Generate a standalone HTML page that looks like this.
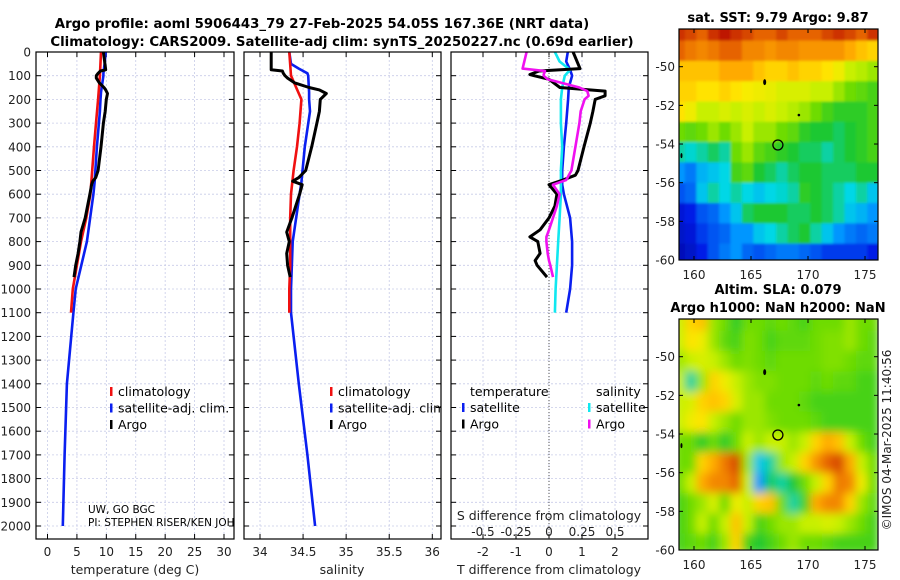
<!DOCTYPE html>
<html><head><meta charset="utf-8"><style>
body{margin:0;background:#fff}
svg{display:block;font-family:"DejaVu Sans","Liberation Sans",sans-serif}
</style></head><body>
<svg id="fig" width="900" height="580" viewBox="0 0 900 580">
<defs>
<clipPath id="c1"><rect x="36" y="52" width="198" height="487"/></clipPath>
<clipPath id="c2"><rect x="244" y="52" width="197" height="487"/></clipPath>
<clipPath id="c3"><rect x="451" y="52" width="197" height="487"/></clipPath>
<clipPath id="cm1"><rect x="679" y="29" width="199" height="231"/></clipPath>
<clipPath id="cm2"><rect x="679" y="319" width="199" height="231"/></clipPath>
<filter id="bl1" x="-5%" y="-5%" width="110%" height="110%"><feGaussianBlur stdDeviation="1.2"/></filter>
<filter id="bl2" x="-5%" y="-5%" width="110%" height="110%"><feGaussianBlur stdDeviation="4.5"/></filter>
</defs>
<g id="root"></g>
</svg>
<script>
// ---- data ----
const depthTicks=[0,100,200,300,400,500,600,700,800,900,1000,1100,1200,1300,1400,1500,1600,1700,1800,1900,2000];
const tTicks=[0,5,10,15,20,25,30];
const sTicks=[34,34.5,35,35.5,36];
const sTickLabels=["34","34.5","35","35.5","36"];
const dTTicks=[-2,-1,0,1,2];
const dSTicks=[-0.5,-0.25,0,0.25,0.5];
const dSTickLabels=["-0.5","-0.25","0","0.25","0.5"];

const climDepth=[0,100,200,300,400,500,600,700,800,900,1000,1100];
const climTemp=[9.1,8.9,8.6,8.25,7.9,7.6,7.3,6.6,5.7,5.0,4.3,4.0];
const climSal=[34.34,34.36,34.48,34.46,34.43,34.39,34.36,34.35,34.35,34.35,34.34,34.34];
const satDepth=[0,50,70,90,100,170,200,250,400,550,600,800,1000,1100,1400,1700,2000];
const satTemp=[9.9,9.7,9.6,9.5,9.5,9.1,9.0,8.9,8.4,8.0,7.8,6.7,4.8,4.4,3.3,2.9,2.6];
const satSal=[34.34,34.36,34.45,34.55,34.56,34.57,34.57,34.58,34.52,34.48,34.46,34.38,34.36,34.36,34.45,34.55,34.64];
const argoDepth=[0,75,80,90,100,110,130,150,160,175,200,250,300,400,500,530,545,560,600,700,760,800,850,900,950];
const argoTemp=[9.5,9.9,9.0,8.6,8.3,8.3,8.8,9.6,9.9,10.2,10.0,9.8,9.5,9.1,8.6,8.2,7.7,7.5,7.2,6.4,5.7,5.5,5.2,4.8,4.5];
const argoSal=[34.13,34.13,34.26,34.27,34.29,34.32,34.40,34.57,34.69,34.77,34.70,34.69,34.66,34.60,34.53,34.45,34.38,34.49,34.46,34.37,34.31,34.34,34.31,34.32,34.35];

const dDepth=[0,40,75,100,150,200,300,400,500,560,600,700,800,900,1000,1100];
const dTsat=[0.57,0.52,0.64,0.7,0.6,0.58,0.52,0.45,0.4,0.4,0.45,0.64,0.7,0.7,0.64,0.52];
const dSsat=[0.045,0.08,0.16,0.12,0.1,0.09,0.09,0.1,0.09,0.09,0.09,0.08,0.07,0.06,0.05,0.045];
const dArgoDepth=[0,70,80,95,100,115,150,165,185,200,250,300,400,500,520,540,560,600,650,700,750,780,800,850,880,900,950];
const dTargo=[0.73,0.94,-0.3,-0.58,-0.45,0,0.33,1.7,1.7,1.4,1.33,1.25,1.06,0.88,0.8,0.42,0,0.24,0.18,0,-0.27,-0.58,-0.34,-0.27,-0.42,-0.36,-0.06];
const dSargo=[-0.17,-0.2,-0.03,-0.04,-0.04,-0.01,0.23,0.29,0.3,0.27,0.24,0.23,0.2,0.17,0.15,0.13,0.03,0.08,0.06,0.03,0.0,-0.02,-0.02,-0.01,0.0,0.01,0.03];

const mapLonTicks=[160,165,170,175];
const mapLatTicks=[-50,-52,-54,-56,-58,-60];
const sstGrid=[
[0.9,0.88,0.85,0.9,0.93,0.9,0.88,0.85,0.85,0.88,0.85,0.85,0.85,0.88,0.9,0.88,0.85,0.9],
[0.85,0.82,0.8,0.82,0.85,0.85,0.8,0.8,0.78,0.8,0.8,0.78,0.78,0.78,0.78,0.75,0.72,0.7],
[0.72,0.72,0.72,0.72,0.75,0.75,0.75,0.72,0.7,0.7,0.72,0.7,0.7,0.68,0.65,0.6,0.58,0.55],
[0.7,0.7,0.68,0.68,0.7,0.68,0.66,0.65,0.64,0.62,0.62,0.62,0.6,0.6,0.55,0.5,0.48,0.45],
[0.68,0.65,0.6,0.6,0.62,0.6,0.62,0.6,0.62,0.6,0.58,0.55,0.5,0.45,0.42,0.42,0.42,0.45],
[0.5,0.48,0.5,0.55,0.5,0.55,0.6,0.55,0.55,0.5,0.48,0.42,0.4,0.4,0.38,0.4,0.42,0.45],
[0.35,0.33,0.35,0.38,0.35,0.5,0.55,0.48,0.45,0.42,0.4,0.38,0.38,0.35,0.38,0.4,0.42,0.45],
[0.25,0.22,0.28,0.3,0.32,0.45,0.48,0.4,0.38,0.35,0.38,0.4,0.4,0.38,0.38,0.38,0.4,0.4],
[0.18,0.2,0.3,0.35,0.32,0.35,0.32,0.3,0.32,0.33,0.35,0.42,0.4,0.38,0.35,0.32,0.35,0.3],
[0.1,0.12,0.18,0.2,0.25,0.3,0.38,0.4,0.4,0.4,0.38,0.38,0.4,0.38,0.35,0.3,0.28,0.25],
[0.08,0.1,0.15,0.18,0.2,0.25,0.25,0.3,0.32,0.35,0.38,0.4,0.35,0.3,0.25,0.22,0.2,0.22],
[0.06,0.08,0.12,0.18,0.22,0.25,0.2,0.18,0.2,0.22,0.22,0.2,0.18,0.15,0.15,0.15,0.15,0.12]];
const slaGrid=[
[0.6,0.7,0.72,0.55,0.5,0.42,0.5,0.5,0.48,0.5,0.48,0.45,0.5,0.5,0.5,0.55,0.5,0.5],
[0.6,0.68,0.65,0.55,0.48,0.45,0.52,0.5,0.45,0.48,0.48,0.48,0.5,0.52,0.52,0.55,0.5,0.48],
[0.55,0.6,0.62,0.6,0.55,0.5,0.52,0.5,0.48,0.5,0.5,0.5,0.5,0.52,0.52,0.5,0.48,0.48],
[0.6,0.35,0.55,0.7,0.65,0.6,0.55,0.52,0.52,0.5,0.5,0.5,0.48,0.5,0.48,0.48,0.45,0.45],
[0.6,0.62,0.7,0.72,0.7,0.62,0.55,0.55,0.5,0.5,0.5,0.48,0.45,0.45,0.45,0.45,0.45,0.45],
[0.6,0.65,0.68,0.6,0.55,0.5,0.55,0.55,0.52,0.5,0.5,0.5,0.48,0.45,0.45,0.45,0.45,0.45],
[0.5,0.5,0.42,0.5,0.42,0.5,0.6,0.55,0.6,0.6,0.55,0.6,0.7,0.75,0.72,0.6,0.5,0.45],
[0.5,0.5,0.7,0.75,0.82,0.88,0.55,0.3,0.35,0.55,0.6,0.7,0.78,0.85,0.88,0.75,0.6,0.5],
[0.5,0.6,0.75,0.8,0.8,0.85,0.6,0.25,0.38,0.35,0.4,0.5,0.6,0.7,0.82,0.8,0.65,0.5],
[0.45,0.5,0.55,0.62,0.5,0.65,0.6,0.7,0.72,0.5,0.35,0.45,0.75,0.8,0.8,0.7,0.55,0.48],
[0.45,0.5,0.6,0.5,0.6,0.72,0.6,0.45,0.5,0.55,0.55,0.6,0.6,0.62,0.6,0.55,0.5,0.45],
[0.45,0.48,0.5,0.45,0.55,0.7,0.45,0.4,0.45,0.5,0.55,0.5,0.5,0.48,0.45,0.45,0.45,0.45]];
const profileLon=[167.36];
const profileLat=[-54.05];

// ---- helpers ----
const NS="http://www.w3.org/2000/svg";
const root=document.getElementById('root');
function mk(tag,attrs,parent,text){const e=document.createElementNS(NS,tag);for(const k in attrs)e.setAttribute(k,attrs[k]);if(text!==undefined)e.textContent=text;(parent||root).appendChild(e);return e;}
const yD=d=>52+d*0.237;
function lin(d0,d1,p0,p1){return v=>p0+(v-d0)*(p1-p0)/(d1-d0);}
const xT=lin(0,30,47.5,224);
const xS=lin(34,36,260,432.3);
const xDT=lin(0,1,549,582);
const xDS=lin(0,1,549,681);

function panel(x0,x1,name,xticks,xfun,labels){
  const g=mk('g',{});
  
  
  mk('rect',{x:x0,y:52,width:x1-x0,height:487,fill:'#fff'},g);
  depthTicks.forEach(d=>{mk('line',{x1:x0,x2:x1,y1:yD(d),y2:yD(d),stroke:'#c8cce8','stroke-width':0.8,'stroke-dasharray':'2,2'},g);
    mk('line',{x1:x0,x2:x0+5,y1:yD(d),y2:yD(d),stroke:'#000'},g);mk('line',{x1:x1-5,x2:x1,y1:yD(d),y2:yD(d),stroke:'#000'},g);});
  xticks.forEach((t,i)=>{const x=xfun(t);mk('line',{x1:x,x2:x,y1:52,y2:539,stroke:'#c8cce8','stroke-width':0.8,'stroke-dasharray':'2,2'},g);
    mk('line',{x1:x,x2:x,y1:534,y2:539,stroke:'#000'},g);mk('line',{x1:x,x2:x,y1:52,y2:57,stroke:'#000'},g);
    const tl=mk('text',{x:x,y:556,'font-size':12,'text-anchor':'middle',fill:'#222'},g,labels[i]);
    
    });
  return g;
}
function line(g,xs,ds,xf,col,w,clip){
  const pts=ds.map((d,i)=>xf(xs[i]).toFixed(1)+','+yD(d).toFixed(1)).join(' ');
  return mk('polyline',{points:pts,fill:'none',stroke:col,'stroke-width':w,'stroke-linejoin':'round','clip-path':'url(#'+clip+')'},g);
}
function frame(g,x0,x1){mk('rect',{x:x0,y:52,width:x1-x0,height:487,fill:'none',stroke:'#000','stroke-width':1.2},g);}

// titles
let t=mk('text',{x:322,y:28,'font-size':13.3,'font-weight':'bold','text-anchor':'middle'},root,'Argo profile: aoml 5906443_79 27-Feb-2025 54.05S 167.36E (NRT data)');

t=mk('text',{x:342,y:46,'font-size':13.3,'font-weight':'bold','text-anchor':'middle'},root,'Climatology: CARS2009. Satellite-adj clim: synTS_20250227.nc (0.69d earlier)');


depthTicks.forEach(d=>{const e=mk('text',{x:31,y:yD(d)+4.5,'font-size':12,'text-anchor':'end',fill:'#222'},root,String(d));
  
  });

// panel 1
const g1=panel(36,234,'temperature-panel',tTicks,xT,tTicks.map(String));
line(g1,satTemp,satDepth,xT,'#0a1ff0',2.6,'c1');
line(g1,climTemp,climDepth,xT,'#f01010',2.6,'c1');
line(g1,argoTemp,argoDepth,xT,'#000',3,'c1');
frame(g1,36,234);
t=mk('text',{x:135,y:574,'font-size':12.5,'text-anchor':'middle',fill:'#222'},g1,'temperature (deg C)');

[['climatology','#f01010'],['satellite-adj. clim.','#0a1ff0'],['Argo','#000']].forEach((L,i)=>{
  const y=392+i*16.5;mk('rect',{x:110,y:y-5,width:2.5,height:9,fill:L[1]},g1);
  const e=mk('text',{x:118,y:y+4,'font-size':12.5,'clip-path':'url(#c1)'},g1,L[0]);
  });
mk('text',{x:88,y:513,'font-size':10.5},g1,'UW, GO BGC');
mk('text',{x:88,y:526,'font-size':10.5,'clip-path':'url(#c1)'},g1,'PI: STEPHEN RISER/KEN JOHNSON');

// panel 2
const g2=panel(244,441,'salinity-panel',sTicks,xS,sTickLabels);
line(g2,satSal,satDepth,xS,'#0a1ff0',2.6,'c2');
line(g2,climSal,climDepth,xS,'#f01010',2.6,'c2');
line(g2,argoSal,argoDepth,xS,'#000',3,'c2');
frame(g2,244,441);
t=mk('text',{x:342,y:574,'font-size':12.5,'text-anchor':'middle',fill:'#222'},g2,'salinity');

[['climatology','#f01010'],['satellite-adj. clim.','#0a1ff0'],['Argo','#000']].forEach((L,i)=>{
  const y=392+i*16.5;mk('rect',{x:330,y:y-5,width:2.5,height:9,fill:L[1]},g2);
  const e=mk('text',{x:338,y:y+4,'font-size':12.5,'clip-path':'url(#c2)'},g2,L[0]);
  });

// panel 3
const g3=panel(451,648,'difference-panel',dTTicks,xDT,dTTicks.map(String));
mk('line',{x1:xDT(0),x2:xDT(0),y1:52,y2:539,stroke:'#555','stroke-width':1,'stroke-dasharray':'1,2'},g3);
line(g3,dTsat,dDepth,xDT,'#0a1ff0',2.6,'c3');
line(g3,dSsat,dDepth,xDS,'#10e8f0',2.6,'c3');
line(g3,dTargo,dArgoDepth,xDT,'#000',3,'c3');
line(g3,dSargo,dArgoDepth,xDS,'#f010f0',2.6,'c3');
frame(g3,451,648);
mk('text',{x:470,y:396,'font-size':12.5},g3,'temperature');
mk('text',{x:596,y:396,'font-size':12.5},g3,'salinity');
[['satellite','#0a1ff0',462],['Argo','#000',462],['satellite','#10e8f0',588],['Argo','#f010f0',588]].forEach((L,i)=>{
  const y=408+(i%2)*16.5;mk('rect',{x:L[2],y:y-5,width:2.5,height:9,fill:L[1]},g3);
  const e=mk('text',{x:L[2]+8,y:y+4,'font-size':12.5,'clip-path':'url(#c3)'},g3,L[0]);
  });
t=mk('text',{x:549,y:520,'font-size':12.5,'text-anchor':'middle',fill:'#222'},g3,'S difference from climatology');

dSTicks.forEach((v,i)=>{const e=mk('text',{x:xDS(v),y:536,'font-size':12,'text-anchor':'middle',fill:'#222'},g3,dSTickLabels[i]);
  });
t=mk('text',{x:549,y:574,'font-size':12.5,'text-anchor':'middle',fill:'#222'},g3,'T difference from climatology');


// colormap (matches reference palette)
const cmStops=[[0,[0,0,140]],[0.12,[0,30,230]],[0.25,[0,150,255]],[0.32,[0,215,230]],[0.4,[30,200,50]],[0.5,[110,220,0]],[0.6,[200,240,0]],[0.67,[255,235,0]],[0.75,[255,170,0]],[0.85,[230,100,0]],[0.95,[180,0,0]],[1,[150,0,0]]];
function cmap(v){v=Math.max(0,Math.min(1,v));
  for(let i=1;i<cmStops.length;i++){if(v<=cmStops[i][0]){const a=cmStops[i-1],b=cmStops[i],f=(v-a[0])/(b[0]-a[0]);
    return 'rgb('+a[1].map((c,k)=>Math.round(c+(b[1][k]-c)*f)).join(',')+')';}}
  return 'rgb(150,0,0)';}
const lonX=lin(160,175,694,865);
function mapPanel(y0,grid,name,clip,filt){
  const latY=lin(-50,-60,y0+37.7,y0+231);
  const g=mk('g',{});
  
  
  const hm=mk('g',{'clip-path':'url(#'+clip+')'},g);
  const inner=mk('g',{filter:'url(#'+filt+')'},hm);
  const lon0=158.2,lat0=-47.6,dl=1,dlat=12.6/12;
  grid.forEach((row,r)=>row.forEach((v,c)=>{
    const x=lonX(lon0+c*dl),y=latY(lat0-r*dlat);
    const cell=mk('rect',{x:x.toFixed(1),y:y.toFixed(1),width:(lonX(lon0+(c+1)*dl)-x+0.6).toFixed(1),height:(latY(lat0-(r+1)*dlat)-y+0.6).toFixed(1),fill:cmap(v)},inner);
    
  }));
  mk('rect',{x:679,y:y0,width:199,height:231,fill:'none',stroke:'#000','stroke-width':1.2},g);
  mapLonTicks.forEach(l=>{const x=lonX(l);mk('line',{x1:x,x2:x,y1:y0,y2:y0+4,stroke:'#000'},g);mk('line',{x1:x,x2:x,y1:y0+227,y2:y0+231,stroke:'#000'},g);
    mk('text',{x:x,y:y0+250,'font-size':12,'text-anchor':'middle',fill:'#222'},g,String(l));});
  mapLatTicks.forEach(l=>{const y=latY(l);mk('line',{x1:679,x2:683,y1:y,y2:y,stroke:'#000'},g);mk('line',{x1:874,x2:878,y1:y,y2:y,stroke:'#000'},g);
    mk('text',{x:675,y:y+4.5,'font-size':12,'text-anchor':'end',fill:'#222'},g,String(l));});
  const c=mk('circle',{cx:lonX(profileLon[0]),cy:latY(profileLat[0]),r:5,fill:'none',stroke:'#000','stroke-width':1.3},g);
  
  mk('ellipse',{cx:lonX(166.2),cy:latY(-50.8),rx:1.5,ry:3,fill:'#000'},g);
  mk('circle',{cx:lonX(169.2),cy:latY(-52.5),r:1.3,fill:'#000'},g);
  mk('ellipse',{cx:lonX(158.9),cy:latY(-54.6),rx:1,ry:2.5,fill:'#000'},g);
  return g;
}
mapPanel(29,sstGrid,'sst-map','cm1','bl1');
t=mk('text',{x:778,y:22,'font-size':13,'font-weight':'bold','text-anchor':'middle'},root,'sat. SST: 9.79 Argo: 9.87');

mapPanel(319,slaGrid,'sla-map','cm2','bl2');
t=mk('text',{x:778,y:294,'font-size':13,'font-weight':'bold','text-anchor':'middle'},root,'Altim. SLA: 0.079');

t=mk('text',{x:778,y:312,'font-size':13,'font-weight':'bold','text-anchor':'middle'},root,'Argo h1000: NaN h2000: NaN');

t=mk('text',{x:0,y:0,'font-size':12,'text-anchor':'middle',fill:'#222',transform:'translate(891,440) rotate(-90)'},root,'©IMOS 04-Mar-2025 11:40:56');

</script>
</body></html>
